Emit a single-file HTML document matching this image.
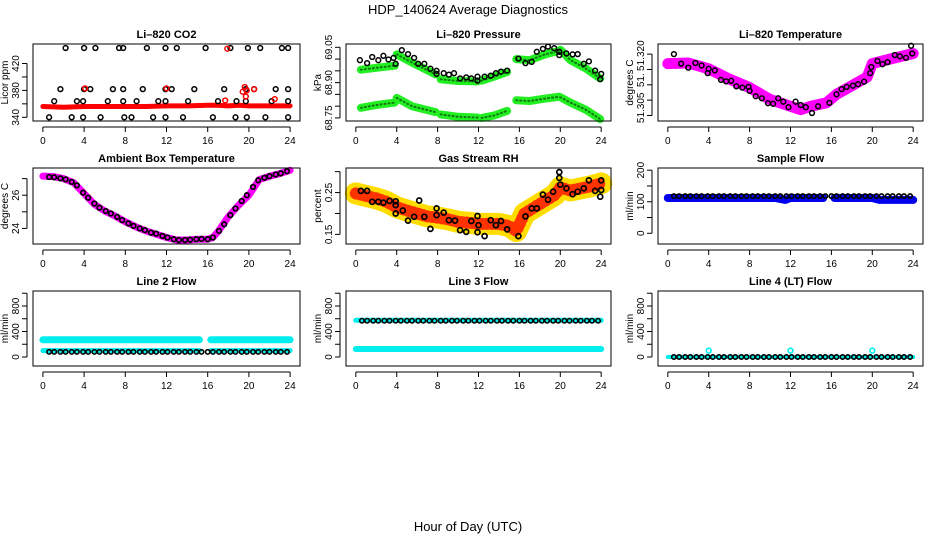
<!DOCTYPE html>
<html><head><meta charset="utf-8"><style>
html,body{margin:0;padding:0;background:#fff;}
svg{display:block;font-family:"Liberation Sans",sans-serif;}
</style></head><body>
<svg id="chart" width="936" height="540" viewBox="0 0 936 540" xmlns="http://www.w3.org/2000/svg">
<text x="468" y="14" text-anchor="middle" font-size="13">HDP_140624  Average Diagnostics</text>
<text x="468" y="531" text-anchor="middle" font-size="13">Hour of Day (UTC)</text>
</svg>
<script>
// ---------- data ----------
const xTicks = [0,4,8,12,16,20,24];
const sampHours = [0.6,1.1,1.7,2.2,2.8,3.3,3.9,4.4,5.0,5.5,6.1,6.6,7.2,7.7,8.3,8.8,9.4,9.9,10.5,11.0,11.6,12.1,12.7,13.2,13.8,14.3,14.9,15.4,16.0,16.5,17.1,17.6,18.2,18.7,19.3,19.8,20.4,20.9,21.5,22.0,22.6,23.1,23.7];

// CO2
const co2BandHours = [0,2,4,6,8,10,12,14,16,17,18,19,20,21,22,23,24];
const co2BandVals  = [356,355,356,356,356,356,357,357,358,358,357,358,357,357,357,357,357];
const co2Hours = [2.2,4,5.1,7.4,7.8,10.1,11.9,13,15.8,18.2,19.9,21.1,23.2,23.8, 1.7,4,4.6,6.8,7.8,9.7,11.9,12.5,14.7,17.6,19.7,20.5,22.6,23.8, 1.1,3.3,3.9,6.3,7.8,9.1,11.2,11.9,14.1,17,18.8,19.7,22.2,23.8, 0.6,2.8,3.9,5.6,7.9,8.6,10.7,11.9,13.6,16.5,18.7,19.8,21.6,23.8];
const co2Vals  = [443,443,443,443,443,443,443,443,443,443,443,443,443,443, 382,382,382,382,382,382,382,382,382,382,382,382,382,382, 364,364,364,364,364,364,364,364,364,364,364,364,364,364, 340,340,340,340,340,340,340,340,340,340,340,340,340,340];
const co2RedHours = [17.9,4.1,12.0,17.7,19.4,19.6,19.7,19.8,20.5,22.5];
const co2RedVals  = [442,383,383,365,378,385,371,380,382,367];

// Pressure
const pBandHours = [0.0,null,0.5,2,3.8,null,4,5.5,7.8,null,8.3,10,11.9,null,12.3,13.5,14.8,null,15.7,17,18.5,19.9,null,20,21,22.5,23.9];
const pUpperVals = [68.995,null,68.955,68.963,68.972,null,69.020,68.985,68.935,null,68.914,68.907,68.905,null,68.908,68.925,68.945,null,69.000,68.995,69.02,69.035,null,69.040,68.995,68.960,68.918];
const pLowerVals = [68.830,null,68.793,68.805,68.815,null,68.835,68.800,68.775,null,68.765,68.755,68.752,null,68.750,68.760,68.780,null,68.825,68.822,68.832,68.840,null,68.838,68.815,68.785,68.745];
const pHours = [0.4,1.1,1.6,2.2,2.7,3.2,3.7,3.9,4.5,5.1,5.7,6.1,6.7,7.3,7.9,7.9,8.6,9.1,9.6,10.2,10.8,11.3,11.9,11.9,12.6,13.2,13.7,14.2,14.8,15.9,16.6,17.2,17.7,18.3,18.8,19.4,19.9,19.9,20.6,21.2,21.7,22.3,22.8,23.4,24,23.9];
const pVals  = [68.995,68.983,69.009,68.995,69.014,68.998,69.005,68.98,69.038,69.021,69.005,68.98,68.98,68.959,68.95,68.937,68.94,68.934,68.94,68.918,68.922,68.918,68.925,68.908,68.925,68.93,68.94,68.947,68.951,69.002,68.983,68.988,69.031,69.043,69.053,69.046,69.031,69.017,69.024,69.02,69.021,68.98,68.99,68.951,68.937,68.915];

// Li-820 temperature
const tBandHours = [0,2,4,6,8,10,12,13,14,15.5,16.5,18,19.5,20,22,24];
const tBandVals  = [51.3169,51.3171,51.3152,51.3119,51.3091,51.3052,51.3030,51.3019,51.3030,51.3041,51.3069,51.3097,51.3125,51.3169,51.3186,51.3202];
const tHours = [0.6,1.3,2,2.7,3.3,3.9,4,4.6,5.2,5.7,6.2,6.7,7.3,7.9,8,8.6,9.2,9.8,10.3,10.8,11.3,11.8,12.5,13,13.5,14.1,14.7,15.8,16.5,17,17.5,18.1,18.6,19.2,19.8,19.9,20.5,21,21.5,22.2,22.7,23.3,23.8,23.9];
const tVals  = [51.3200,51.3169,51.3156,51.3171,51.3163,51.3138,51.3152,51.3147,51.3116,51.3111,51.3113,51.3095,51.3091,51.3093,51.3080,51.3063,51.3056,51.3040,51.3038,51.3056,51.3045,51.3027,51.3045,51.3034,51.3027,51.3008,51.3030,51.3041,51.3069,51.3086,51.3093,51.3097,51.3102,51.3110,51.3138,51.3158,51.3178,51.3167,51.3174,51.3197,51.3193,51.3188,51.3227,51.3202];

// Ambient box temperature
const ambBandHours = [0,1,2,3,4,5,6,7,8,9,10,11,12,13,14,15,16,16.5,17,18,19,20,21,22,23,24];
const ambBandVals  = [27.15,27.12,27.0,26.75,26.1,25.45,25.05,24.75,24.4,24.1,23.85,23.65,23.45,23.3,23.3,23.35,23.35,23.45,23.8,24.7,25.4,26.0,26.94,27.14,27.3,27.5];
const ambVals = [27.1,27.08,27.02,26.95,26.8,26.6,26.15,25.85,25.5,25.25,25.05,24.9,24.7,24.5,24.3,24.15,24.0,23.9,23.75,23.68,23.55,23.45,23.35,23.3,23.3,23.32,23.35,23.37,23.35,23.45,23.85,24.25,24.8,25.2,25.65,26.0,26.5,26.9,27.05,27.15,27.25,27.32,27.45];

// Gas stream RH
const rhBandHours = [0,1,2,3,4,5,6,7,8,9,10,11,12,13,14,15,15.7,16.5,17.5,18.5,19.5,20,21,22,23,24];
const rhBandVals  = [0.248,0.242,0.236,0.228,0.215,0.207,0.200,0.193,0.190,0.186,0.180,0.178,0.175,0.175,0.175,0.170,0.158,0.200,0.215,0.230,0.245,0.262,0.255,0.260,0.265,0.272];
const rhHours = [0.5,1.1,1.6,2.2,2.7,3.3,3.9,3.9,3.9,4.6,5.1,5.7,6.2,6.7,7.3,7.9,7.9,8.6,9.1,9.7,10.2,10.8,11.3,11.9,11.9,12,12.6,13.2,13.7,14.2,14.8,15.9,16.6,17.2,17.7,18.3,18.8,19.3,19.9,19.9,20,20.6,21.2,21.7,22.3,22.8,23.4,23.9,24,24];
const rhVals  = [0.254,0.254,0.228,0.228,0.226,0.23,0.22,0.229,0.2,0.207,0.183,0.192,0.231,0.192,0.163,0.212,0.196,0.202,0.184,0.183,0.16,0.156,0.182,0.194,0.155,0.172,0.146,0.184,0.172,0.182,0.162,0.146,0.193,0.212,0.212,0.245,0.233,0.252,0.299,0.285,0.269,0.26,0.246,0.252,0.26,0.279,0.254,0.24,0.256,0.279];

// Flows
const flowBandHours = [0,4,8,10.5,11.5,12,15.2,15.5,16.3,20,20.7,24];
const sampleBandVals = [112,112,112,112,106,112,112,null,112,112,106,106];
const sampleFlowVals = [118,118,118,118,118,118,118,118,118,118,118,118,118,118,118,118,118,118,118,118,118,118,118,118,118,118,118,118,118,118,118,118,118,118,118,118,118,118,118,118,118,118,118];
const line2BandVals = [270,270,270,270,270,270,270,null,270,270,270,270];
const line2LowBandVals = [100,100,100,100,100,100,100,null,100,100,100,100];
const line2FlowVals = [80,80,80,80,80,80,80,80,80,80,80,80,80,80,80,80,80,80,80,80,80,80,80,80,80,80,80,80,80,80,80,80,80,80,80,80,80,80,80,80,80,80,80];
const line3BandVals = [125,125,125,125,125,125,125,125,125,125,125,125];
const line3HighBandVals = [575,575,575,575,575,575,575,575,575,575,575,575];
const line3FlowVals = [570,570,570,570,570,570,570,570,570,570,570,570,570,570,570,570,570,570,570,570,570,570,570,570,570,570,570,570,570,570,570,570,570,570,570,570,570,570,570,570,570,570,570];
const line4BandVals = [0,0,0,0,0,0,0,0,0,0,0,0];
const line4FlowVals = [0,0,0,0,0,0,0,0,0,0,0,0,0,0,0,0,0,0,0,0,0,0,0,0,0,0,0,0,0,0,0,0,0,0,0,0,0,0,0,0,0,0,0];
const line4SpikeHours = [4,12,20];
const line4SpikeVals = [100,100,100];

// ---------- drawing ----------
const NS = "http://www.w3.org/2000/svg";
const svg = document.getElementById('chart');
function mk(tag, attrs, parent){const e=document.createElementNS(NS,tag);for(const k in attrs)e.setAttribute(k,attrs[k]);(parent||svg).appendChild(e);return e;}

const cols = [[33,300],[346,611],[658,923]];
const rows = [[44,121],[168,244],[291,366]];

function makePanel(c, r, ymin, ymax, title, ylab, yticks, ylabs, name){
  const [x0,x1]=cols[c],[y0,y1]=rows[r];
  const g = mk('g',{});
  
  
  const xs = h => x0+(x1-x0)*(h+0.96)/25.92;
  const ys = v => y1-(y1-y0)*(v-ymin)/(ymax-ymin);
  const data = mk('g',{},g);
  
  
  const frame = mk('rect',{x:x0,y:y0,width:x1-x0,height:y1-y0,fill:'none',stroke:'#000','stroke-width':1},g);
  
  
  const t = mk('text',{x:(x0+x1)/2,y:y0-6,'text-anchor':'middle','font-size':11,'font-weight':'bold'},g);
  
  
  t.textContent = title;
  const xa = mk('g',{},g);
  
  
  mk('line',{x1:xs(0),x2:xs(24),y1:y1+6,y2:y1+6,stroke:'#000'},xa);
  xTicks.forEach(h=>{
    mk('line',{x1:xs(h),x2:xs(h),y1:y1+6,y2:y1+11,stroke:'#000'},xa);
    const l=mk('text',{x:xs(h),y:y1+23,'text-anchor':'middle','font-size':10},xa);
    
    
    l.textContent=h;
  });
  const ya = mk('g',{},g);
  
  
  mk('line',{x1:x0-6,x2:x0-6,y1:ys(yticks[0]),y2:ys(yticks[yticks.length-1]),stroke:'#000'},ya);
  yticks.forEach(v=>mk('line',{x1:x0-11,x2:x0-6,y1:ys(v),y2:ys(v),stroke:'#000'},ya));
  ylabs.forEach(([v,s])=>{
    const yy=ys(v);
    const l=mk('text',{x:x0-14,y:yy,'text-anchor':'middle','font-size':10,transform:`rotate(-90 ${x0-14} ${yy})`},ya);
    
    
    l.textContent=s;
  });
  const yc=(y0+y1)/2, yx=x0-25;
  const yt=mk('text',{x:yx,y:yc,'text-anchor':'middle','font-size':10,transform:`rotate(-90 ${yx} ${yc})`},g);
  
  
  yt.textContent=ylab;
  return {xs,ys,g:data};
}

function band(p, hours, vals, color, width, name, dash){
  let d='', pen=false;
  for(let i=0;i<hours.length;i++){
    if(hours[i]===null||vals[i]===null){pen=false;continue;}
    d += (pen?'L':'M')+p.xs(hours[i]).toFixed(1)+' '+p.ys(vals[i]).toFixed(1)+' ';
    pen=true;
  }
  const e=mk('path',{d,fill:'none',stroke:color,'stroke-width':width,'stroke-linecap':'round','stroke-linejoin':'round'},p.g);
  if(dash) e.setAttribute('stroke-dasharray',dash);
  
  
}
function pts(p, hours, vals, color, name, rr, sw){
  for(let i=0;i<hours.length;i++){
    const c=mk('circle',{cx:p.xs(hours[i]).toFixed(1),cy:p.ys(vals[i]).toFixed(1),r:rr||2.4,fill:'none',stroke:color,'stroke-width':sw||1.5},p.g);
    
    
  }
}

// Row 1
let p = makePanel(0,0,334.5,449,'Li\u2013820 CO2','Licor ppm',[340,360,380,400,420],[[340,'340'],[380,'380'],[420,'420']],'co2');
band(p, co2BandHours, co2BandVals, '#ff0000', 5, 'co2-band');
pts(p, co2Hours, co2Vals, '#000', 'co2-point');
pts(p, co2RedHours, co2RedVals, '#ff0000', 'co2-red-point');

p = makePanel(1,0,68.737,69.064,'Li\u2013820 Pressure','kPa',[68.75,68.8,68.85,68.9,68.95,69.0,69.05],[[68.75,'68.75'],[68.9,'68.90'],[69.05,'69.05']],'pressure');
band(p, pBandHours, pUpperVals, '#22ee22', 8, 'pressure-upper-band');
band(p, pBandHours, pLowerVals, '#22ee22', 8, 'pressure-lower-band');
band(p, pBandHours, pUpperVals, '#117711', 2, 'pressure-upper-band-core', '1 3');
band(p, pBandHours, pLowerVals, '#117711', 2, 'pressure-lower-band-core', '1 3');
pts(p, pHours, pVals, '#000', 'pressure-point');

p = makePanel(2,0,51.2982,51.3233,'Li\u2013820 Temperature','degrees C',[51.300,51.305,51.310,51.315,51.320],[[51.3025,'51.305'],[51.3115,'51.'],[51.3195,'51.320']],'li820-temp');
band(p, tBandHours, tBandVals, '#ff00ff', 11, 'li820-temp-band');
pts(p, tHours, tVals, '#000', 'li820-temp-point');

// Row 2
p = makePanel(0,1,23.06,27.64,'Ambient Box Temperature','degrees C',[24,25,26,27],[[24,'24'],[26,'26']],'ambient-temp');
band(p, ambBandHours, ambBandVals, '#ff00ff', 7, 'ambient-temp-band');
pts(p, sampHours, ambVals, '#000', 'ambient-temp-point', 2.3, 1.7);

p = makePanel(1,1,0.127,0.3087,'Gas Stream RH','percent',[0.15,0.2,0.25,0.3],[[0.15,'0.15'],[0.25,'0.25']],'gas-rh');
band(p, rhBandHours, rhBandVals, '#ffdd00', 22, 'gas-rh-band');
band(p, rhBandHours, rhBandVals, '#ff3300', 12, 'gas-rh-band-speckle', '1 4');
pts(p, rhHours, rhVals, '#000', 'gas-rh-point', 2.5, 1.7);

p = makePanel(2,1,-34,207,'Sample Flow','ml/min',[0,50,100,150,200],[[0,'0'],[100,'100'],[200,'200']],'sample-flow');
band(p, flowBandHours, sampleBandVals, '#0000ee', 8, 'sample-flow-band');
pts(p, sampHours, sampleFlowVals, '#000', 'sample-flow-point', 2.2, 1.6);

// Row 3
const flowTicks=[0,200,400,600,800,1000], flowLabs=[[0,'0'],[400,'400'],[800,'800']];
p = makePanel(0,2,-141,1035,'Line 2 Flow','ml/min',flowTicks,flowLabs,'line2-flow');
band(p, flowBandHours, line2BandVals, '#00eeee', 7, 'line2-flow-band');
band(p, flowBandHours, line2LowBandVals, '#00eeee', 5, 'line2-flow-low-band');
pts(p, sampHours, line2FlowVals, '#000', 'line2-flow-point', 2.2, 1.6);

p = makePanel(1,2,-141,1035,'Line 3 Flow','ml/min',flowTicks,flowLabs,'line3-flow');
band(p, flowBandHours, line3BandVals, '#00eeee', 6, 'line3-flow-band');
band(p, flowBandHours, line3HighBandVals, '#00eeee', 5, 'line3-flow-high-band');
pts(p, sampHours, line3FlowVals, '#000', 'line3-flow-point', 2.2, 1.6);

p = makePanel(2,2,-141,1035,'Line 4 (LT) Flow','ml/min',flowTicks,flowLabs,'line4-flow');
band(p, flowBandHours, line4BandVals, '#00eeee', 4, 'line4-flow-band');
pts(p, sampHours, line4FlowVals, '#000', 'line4-flow-point', 2.2, 1.6);
pts(p, line4SpikeHours, line4SpikeVals, '#00eeee', 'line4-flow-spike', 2.4, 1.6);
</script>
</body></html>
